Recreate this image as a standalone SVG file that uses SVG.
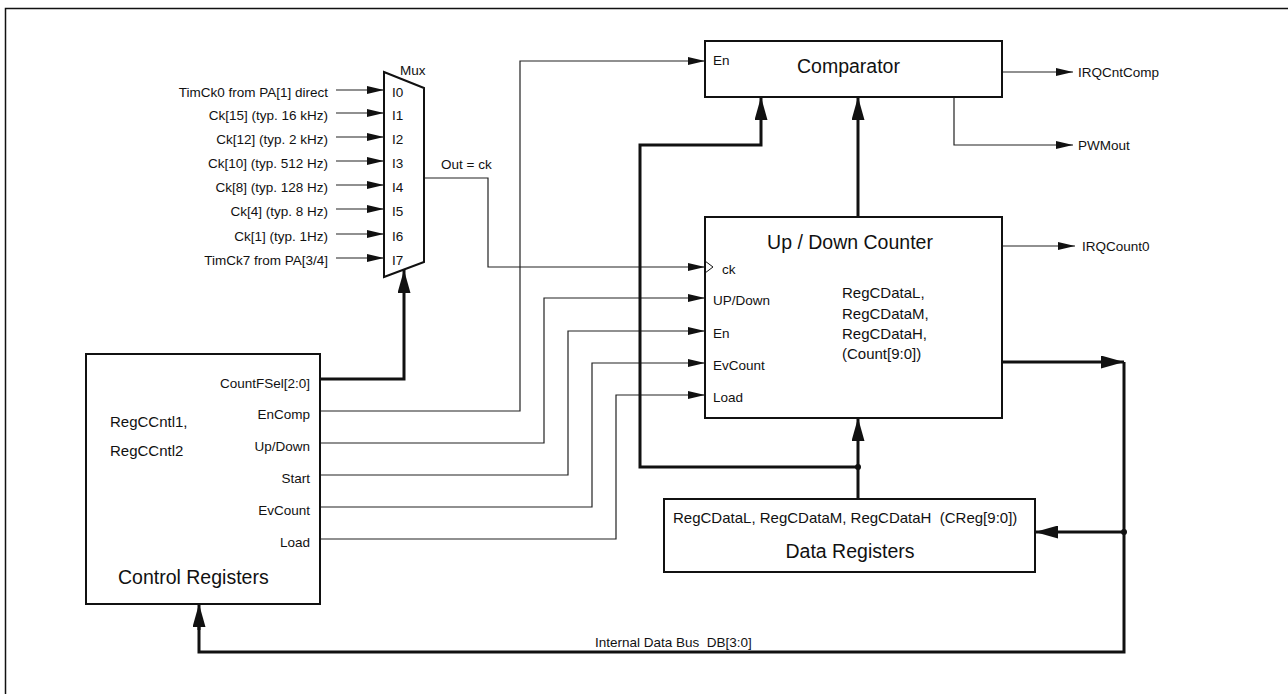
<svg xmlns="http://www.w3.org/2000/svg" width="1288" height="694" viewBox="0 0 1288 694">
<style>
text{font-family:"Liberation Sans",Arial,sans-serif;fill:#111;white-space:pre}
.s{font-size:13.5px}
.m{font-size:15px}
.l{font-size:19.5px}
.e{text-anchor:end}
.c{text-anchor:middle}
.box{fill:#fff;stroke:#111;stroke-width:2}
.thin{fill:none;stroke:#222;stroke-width:1.2}
.thick{fill:none;stroke:#111;stroke-width:3}
.ta{marker-end:url(#a1)}
.kA{marker-end:url(#a2)}
</style>
<defs>
<marker id="a1" markerUnits="userSpaceOnUse" markerWidth="17" markerHeight="8" refX="17" refY="4" orient="auto"><path d="M0,0L17,4L0,8z" fill="#111"/></marker>
<marker id="a2" markerUnits="userSpaceOnUse" markerWidth="23" markerHeight="13" refX="23" refY="6.5" orient="auto"><path d="M0,0L23,6.5L0,13z" fill="#111"/></marker>
</defs>
<rect width="1288" height="694" fill="#fff"/>
<path d="M5.5,694V8.5H1288" fill="none" stroke="#111" stroke-width="1.5"/>

<g id="connectors">
<path class="thin ta" d="M336,90H384"/>
<path class="thin ta" d="M336,113H384"/>
<path class="thin ta" d="M336,137H384"/>
<path class="thin ta" d="M336,161H384"/>
<path class="thin ta" d="M336,185H384"/>
<path class="thin ta" d="M336,209H384"/>
<path class="thin ta" d="M336,234H384"/>
<path class="thin ta" d="M336,258H384"/>
<path class="thin ta" d="M424,178H488V267H705"/>
<path class="thick kA" d="M320,379H404V270"/>
<path class="thin ta" d="M320,411H520V61H705"/>
<path class="thin ta" d="M320,443H544V298H705"/>
<path class="thin ta" d="M320,475H568V331H705"/>
<path class="thin ta" d="M320,507H592V363H705"/>
<path class="thin ta" d="M320,539H616V395H705"/>
<path class="thick kA" d="M858,467H640V145H761V97"/>
<path class="thick kA" d="M858,217V97"/>
<path class="thick kA" d="M858,499V418"/>
<path class="thin ta" d="M1002,72H1073"/>
<path class="thin ta" d="M954,97V145H1073"/>
<path class="thin ta" d="M1002,246H1075"/>
<path class="thick kA" d="M1002,362H1124"/>
<path class="thick" d="M1124,362V652H199V620"/>
<path class="thick kA" d="M199,630V604"/>
<path class="thick kA" d="M1124,532H1035"/>
<circle cx="858" cy="467" r="3" fill="#111"/>
<circle cx="1124" cy="532" r="3" fill="#111"/>
<text class="s" x="595" y="647">Internal Data Bus  DB[3:0]</text>
<text class="s" x="1078" y="77">IRQCntComp</text>
<text class="s" x="1078" y="150">PWMout</text>
<text class="s" x="1082" y="251">IRQCount0</text>
<text class="s" x="441" y="169">Out = ck</text>
</g>

<g id="mux">
<path d="M384,72L424,88V262L384,277Z" fill="#fff" stroke="#111" stroke-width="2"/>
<text class="s" x="400" y="75">Mux</text>
<text class="s" x="392" y="97">I0</text>
<text class="s" x="392" y="120">I1</text>
<text class="s" x="392" y="144">I2</text>
<text class="s" x="392" y="168">I3</text>
<text class="s" x="392" y="192">I4</text>
<text class="s" x="392" y="216">I5</text>
<text class="s" x="392" y="241">I6</text>
<text class="s" x="392" y="265">I7</text>
</g>

<g id="mux-inputs">
<text class="s e" x="328" y="97">TimCk0 from PA[1] direct</text>
<text class="s e" x="328" y="120">Ck[15] (typ. 16 kHz)</text>
<text class="s e" x="328" y="144">Ck[12] (typ. 2 kHz)</text>
<text class="s e" x="328" y="168">Ck[10] (typ. 512 Hz)</text>
<text class="s e" x="328" y="192">Ck[8] (typ. 128 Hz)</text>
<text class="s e" x="328" y="216">Ck[4] (typ. 8 Hz)</text>
<text class="s e" x="328" y="241">Ck[1] (typ. 1Hz)</text>
<text class="s e" x="328" y="265">TimCk7 from PA[3/4]</text>
</g>

<g id="comparator">
<rect class="box" x="705" y="41" width="297" height="56"/>
<text class="s" x="713" y="65">En</text>
<text class="l" x="797" y="73">Comparator</text>
</g>

<g id="counter">
<rect class="box" x="705" y="217" width="297" height="201"/>
<text class="l c" x="850" y="249">Up / Down Counter</text>
<path d="M705,261L713,267L705,273" fill="none" stroke="#111" stroke-width="1"/>
<text class="s" x="722" y="274">ck</text>
<text class="s" x="713" y="305">UP/Down</text>
<text class="s" x="713" y="338">En</text>
<text class="s" x="713" y="370">EvCount</text>
<text class="s" x="713" y="402">Load</text>
<text class="m" x="842" y="298">RegCDataL,</text>
<text class="m" x="842" y="319">RegCDataM,</text>
<text class="m" x="842" y="339">RegCDataH,</text>
<text class="m" x="842" y="359">(Count[9:0])</text>
</g>

<g id="data-registers">
<rect class="box" x="664" y="499" width="371" height="73"/>
<text class="m" x="673" y="523">RegCDataL, RegCDataM, RegCDataH  (CReg[9:0])</text>
<text class="l c" x="850" y="558">Data Registers</text>
</g>

<g id="control-registers">
<rect class="box" x="86" y="354" width="234" height="250"/>
<text class="s e" x="310" y="388">CountFSel[2:0]</text>
<text class="s e" x="310" y="419">EnComp</text>
<text class="s e" x="310" y="451">Up/Down</text>
<text class="s e" x="310" y="483">Start</text>
<text class="s e" x="310" y="515">EvCount</text>
<text class="s e" x="310" y="547">Load</text>
<text class="m" x="110" y="427">RegCCntl1,</text>
<text class="m" x="110" y="456">RegCCntl2</text>
<text class="l" x="118" y="584">Control Registers</text>
</g>
</svg>
